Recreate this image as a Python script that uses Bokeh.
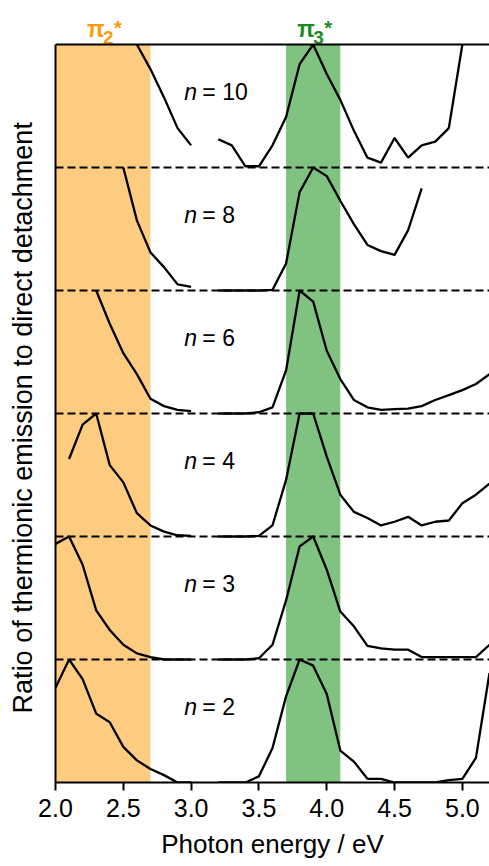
from bokeh.plotting import figure
from bokeh.models import Range1d, FixedTicker, PrintfTickFormatter, Span
from bokeh.core.properties import value
from bokeh.embed import file_html
from bokeh.resources import INLINE

# ---------------- data ----------------
energies = [2.0, 2.1, 2.2, 2.3, 2.4, 2.5, 2.6, 2.7, 2.8, 2.9, 3.0, 3.1, 3.2, 3.3, 3.4,
            3.5, 3.6, 3.7, 3.8, 3.9, 4.0, 4.1, 4.2, 4.3, 4.4, 4.5, 4.6, 4.7, 4.8, 4.9,
            5.0, 5.1, 5.2]

N = None
ratio_n2 = [0.77, 1.0, 0.84, 0.56, 0.49, 0.29, 0.18, 0.11, 0.06, 0.0, 0.0, N, 0.0, 0.0, 0.0,
            0.05, 0.28, 0.70, 1.0, 0.95, 0.72, 0.26, 0.17, 0.03, 0.03, 0.0, 0.0, 0.0, 0.0, 0.02,
            0.03, 0.20, 0.89]
ratio_n3 = [0.94, 1.0, 0.77, 0.40, 0.24, 0.12, 0.05, 0.02, 0.0, 0.0, 0.0, N, 0.0, 0.0, 0.0,
            0.01, 0.12, 0.48, 0.92, 1.0, 0.73, 0.39, 0.27, 0.11, 0.09, 0.08, 0.08, 0.02, 0.02, 0.02,
            0.02, 0.02, 0.12]
ratio_n4 = [N, 0.63, 0.91, 1.0, 0.58, 0.44, 0.19, 0.09, 0.04, 0.01, 0.005, N, 0.0, 0.0, 0.0,
            0.005, 0.09, 0.46, 1.0, 1.0, 0.65, 0.34, 0.20, 0.15, 0.09, 0.12, 0.16, 0.09, 0.12, 0.13,
            0.27, 0.34, 0.43]
ratio_n6 = [N, N, N, 1.0, 0.73, 0.49, 0.32, 0.12, 0.06, 0.03, 0.02, N, 0.0, 0.0, 0.0,
            0.01, 0.05, 0.35, 1.0, 0.91, 0.51, 0.28, 0.11, 0.05, 0.03, 0.035, 0.04, 0.06, 0.11, 0.15,
            0.19, 0.24, 0.32]
ratio_n8 = [N, N, N, N, N, 1.0, 0.57, 0.31, 0.19, 0.05, 0.03, N, 0.0, 0.0, 0.0,
            0.0, 0.005, 0.22, 0.80, 1.0, 0.93, 0.73, 0.54, 0.37, 0.32, 0.29, 0.49, 0.83, N, N,
            N, N, N]
ratio_n10 = [N, N, N, N, N, N, 1.0, 0.80, 0.57, 0.32, 0.18, N, 0.23, 0.18, 0.01,
             0.01, 0.18, 0.41, 0.84, 1.0, 0.76, 0.55, 0.30, 0.08, 0.04, 0.24, 0.08, 0.18, 0.21, 0.32,
             1.0, N, N]

cluster_labels = ["2", "3", "4", "6", "8", "10"]
cluster_series = [ratio_n2, ratio_n3, ratio_n4, ratio_n6, ratio_n8, ratio_n10]

band_left = [2.0, 3.7]
band_right = [2.7, 4.1]
band_names = ["2", "3"]

x_ticks = [2.0, 2.5, 3.0, 3.5, 4.0, 4.5, 5.0]

# ---------------- styles ----------------
FONT = "Liberation Sans"
band_fill = ["#FECC80", "#80C280"]
band_text = ["#FF9A0A", "#1E8A1E"]
n_panels = len(cluster_series)

PANEL_PX = 123          # pixel height of one panel
HEADER_PX = 44          # space above the stacked panels for the orbital labels
head = HEADER_PX / PANEL_PX

p = figure(frame_width=434, frame_height=PANEL_PX * n_panels + HEADER_PX,
           x_range=Range1d(2.0, 5.2), y_range=Range1d(0, n_panels + head),
           output_backend="svg", toolbar_location=None,
           min_border_left=55, min_border_right=0, min_border_top=0, min_border_bottom=84)
p.background_fill_color = "white"
p.border_fill_color = "white"
p.xgrid.visible = False
p.ygrid.visible = False
p.outline_line_color = None

# shaded bands
p.quad(left=band_left, right=band_right, bottom=0, top=n_panels,
       fill_color=band_fill, line_color=None)

# dashed separators and top frame line
for i in range(1, n_panels):
    p.add_layout(Span(location=i, dimension="width", line_color="black",
                      line_width=2, line_dash="8 4"))
p.add_layout(Span(location=n_panels, dimension="width", line_color="black", line_width=2))

# curves
for k, series in enumerate(cluster_series):
    ys = [float("nan") if v is None else v + k for v in series]
    p.line(energies, ys, line_color="black", line_width=2.3)

# n = ... labels
label_x = [2.95] * n_panels
label_y = [k + 0.61 for k in range(n_panels)]
p.text(x=label_x, y=label_y, text=["n"] * n_panels, text_font=value(FONT),
       text_font_size="23px", text_font_style="italic", text_color="black",
       text_align="left", text_baseline="alphabetic")
p.text(x=label_x, y=label_y, text=["= " + c for c in cluster_labels], text_font=value(FONT),
       text_font_size="23px", text_color="black", x_offset=18,
       text_align="left", text_baseline="alphabetic")

# orbital labels above the bands
band_center = [(l + r) / 2 for l, r in zip(band_left, band_right)]
top_y = [n_panels] * len(band_center)
p.text(x=band_center, y=top_y, text=["π"] * len(band_center), x_offset=-16, y_offset=-16,
       text_font=value(FONT), text_font_size="23px", text_font_style="bold",
       text_color=band_text, text_align="left", text_baseline="alphabetic")
p.text(x=band_center, y=top_y, text=band_names, x_offset=0, y_offset=-7,
       text_font=value(FONT), text_font_size="19px", text_font_style="bold",
       text_color=band_text, text_align="left", text_baseline="alphabetic")
p.text(x=band_center, y=top_y, text=["*"] * len(band_center), x_offset=11, y_offset=-17,
       text_font=value(FONT), text_font_size="20px", text_font_style="bold",
       text_color=band_text, text_align="left", text_baseline="alphabetic")

# x axis
xa = p.xaxis[0]
xa.ticker = FixedTicker(ticks=x_ticks, minor_ticks=[])
xa.formatter = PrintfTickFormatter(format="%.1f")
xa.axis_line_width = 2
xa.axis_line_color = "black"
xa.major_tick_line_width = 2
xa.major_tick_line_color = "black"
xa.major_tick_in = 0
xa.major_tick_out = 8
xa.minor_tick_line_color = None
xa.major_label_text_font = FONT
xa.major_label_text_font_size = "25px"
xa.major_label_text_color = "black"
xa.major_label_standoff = 8
xa.axis_label = "Photon energy / eV"
xa.axis_label_text_font = FONT
xa.axis_label_text_font_size = "26px"
xa.axis_label_text_font_style = "normal"
xa.axis_label_text_color = "black"
xa.axis_label_standoff = 9

# y axis (label padded with no-break spaces so it is centred on the panels, not the header)
ya = p.yaxis[0]
ya.bounds = (0, n_panels)
ya.ticker = FixedTicker(ticks=[], minor_ticks=[])
ya.axis_line_width = 2
ya.axis_line_color = "black"
ya.major_tick_line_color = None
ya.minor_tick_line_color = None
ya.major_label_text_font_size = "0px"
ya.axis_label = "Ratio of thermionic emission to direct detachment" + "\u00a0" * 7
ya.axis_label_text_font = FONT
ya.axis_label_text_font_size = "27px"
ya.axis_label_text_font_style = "normal"
ya.axis_label_text_color = "black"
ya.axis_label_standoff = 18

open("out.html", "w").write(file_html(p, INLINE))
